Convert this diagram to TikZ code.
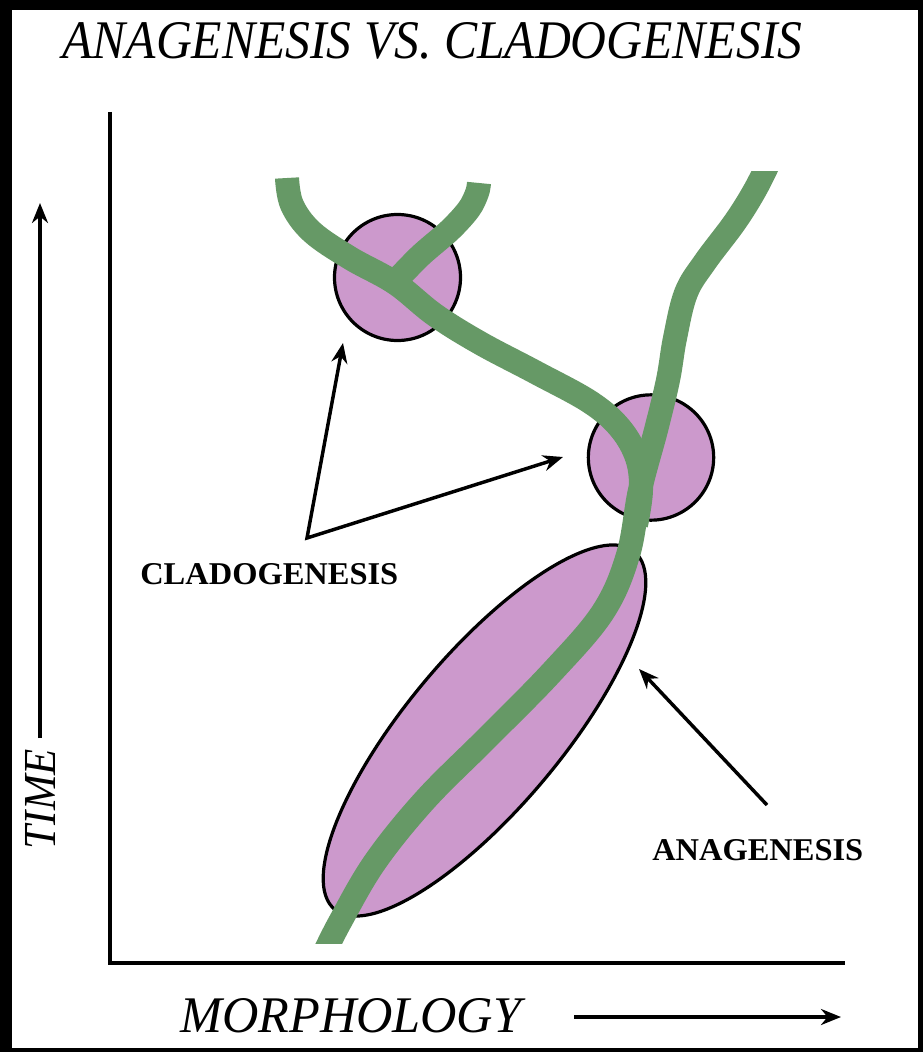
\documentclass[tikz,border=0pt]{standalone}
\usepackage{fontspec}
\setmainfont{Liberation Serif}
\usetikzlibrary{arrows.meta,shapes.geometric}
\definecolor{lineage}{RGB}{102,153,102}
\definecolor{taxon}{RGB}{204,153,204}
\begin{document}
\begin{tikzpicture}[x=0.75pt,y=-0.75pt,
  lineagestroke/.style={draw=lineage, line width=18pt, line cap=butt, line join=round},
  taxonshape/.style={fill=taxon, draw=black, line width=2.4pt, inner sep=0pt},
  pointer/.style={draw=black, line width=2.6pt, -{Stealth[length=15pt,width=12pt]}},
  twopointer/.style={draw=black, line width=2.6pt, {Stealth[length=15pt,width=12pt]}-{Stealth[length=15pt,width=12pt]}},
  axisline/.style={draw=black, line width=3pt},
  lbl/.style={inner sep=0pt, anchor=north west}]
\useasboundingbox (0,0) rectangle (923,1052);
\fill[black] (0,0) rectangle (923,1052);
\fill[white] (12,10) rectangle (918,1048);

% title
\node[lbl] (title) at (62,22) {\resizebox{555pt}{27pt}{\itshape ANAGENESIS VS. CLADOGENESIS}};

% axes
\coordinate (axistop) at (110,112);
\coordinate (origin) at (110,963);
\coordinate (axisright) at (845,963);
\draw[axisline] (axistop) -- (origin) -- (axisright);

% time axis label
\coordinate (timetail) at (40,738);
\coordinate (timetip) at (40,203);
\draw[pointer] (timetail) -- (timetip);
\node[inner sep=0pt, rotate=90] (timelabel) at (40,799) {\resizebox{75pt}{22.5pt}{\itshape TIME}};

% morphology label
\node[lbl] (morphlabel) at (180,998) {\resizebox{255.75pt}{25.5pt}{\itshape MORPHOLOGY}};
\coordinate (morphtail) at (574,1017);
\coordinate (morphtip) at (841,1017);
\draw[pointer] (morphtail) -- (morphtip);

% taxa
\node[taxonshape, circle, minimum size=94.5pt] (splitA) at (397.5,277.5) {};
\node[taxonshape, circle, minimum size=94pt] (splitB) at (651,457.5) {};
\node[taxonshape, ellipse, rotate=50, minimum width=350pt, minimum height=116pt] (anaspan) at (484.5,730.5) {};

% lineages
\begin{scope}
\clip (0,171) rectangle (923,943);
\draw[lineagestroke] plot[smooth, tension=0.6] coordinates {
 (322,958) (340,922) (375,862) (425,800) (487,738) (552,672) (603,612) (628,555)
 (640,490) (656,430) (668,380) (675,338) (686,293) (705,262) (735,222) (755,190) (770,160)};
\end{scope}
\draw[lineagestroke] plot[smooth, tension=0.6] coordinates {
 (287,178) (292,205) (312,232) (350,258) (395,283) (435,315) (480,343) (535,372)
 (590,402) (620,428) (637,458) (641,490) (636,525)};
\draw[lineagestroke] plot[smooth, tension=0.55] coordinates {
 (392,285) (420,256) (450,230) (469,209) (477,193) (479,183)};

% labels and pointers
\node[lbl] (cladolabel) at (140,563) {\resizebox{193.5pt}{15.75pt}{\bfseries CLADOGENESIS}};
\coordinate (cladovertex) at (307,538);
\coordinate (cladotipA) at (343,343);
\coordinate (cladotipB) at (563,457);
\draw[twopointer] (cladotipA) -- (cladovertex) -- (cladotipB);

\node[lbl] (analabel) at (652,839) {\resizebox{158.25pt}{15.75pt}{\bfseries ANAGENESIS}};
\coordinate (anatail) at (767,805);
\coordinate (anatip) at (639,669);
\draw[pointer] (anatail) -- (anatip);
\end{tikzpicture}
\end{document}
